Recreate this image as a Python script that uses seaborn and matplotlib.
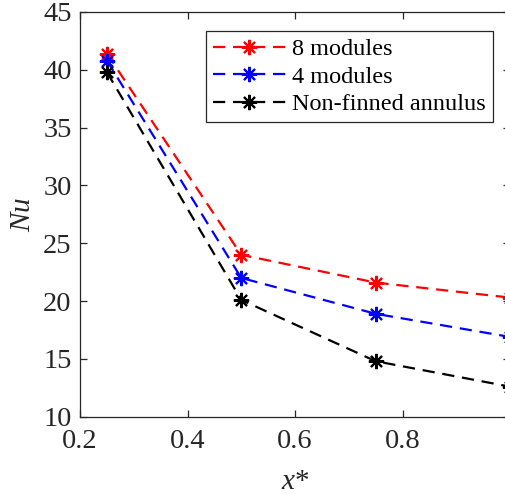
import matplotlib
matplotlib.use("Agg")
import matplotlib.pyplot as plt
import seaborn as sns
import pandas as pd

# Nusselt number along the dimensionless axial position
x_star = [0.25, 0.50, 0.75, 1.00]
nu_8_modules = [41.4, 24.0, 21.6, 20.3]
nu_4_modules = [40.8, 22.0, 18.9, 16.9]
nu_non_finned = [39.8, 20.1, 14.8, 12.6]

series_names = ["8 modules", "4 modules", "Non-finned annulus"]
series_colors = ["#ff0000", "#0000ff", "#000000"]

x_ticks = [0.2, 0.4, 0.6, 0.8, 1.0]
x_tick_labels = ["0.2", "0.4", "0.6", "0.8", ""]
y_ticks = [10, 15, 20, 25, 30, 35, 40, 45]

sns.set_theme(style="white")
plt.rcParams["font.family"] = ["Liberation Serif", "DejaVu Serif"]
plt.rcParams["mathtext.fontset"] = "custom"
plt.rcParams["mathtext.it"] = "Liberation Serif:italic"
plt.rcParams["mathtext.rm"] = "Liberation Serif"

W, H = 505, 494
fig = plt.figure(figsize=(W / 100, H / 100), dpi=100)
left, right, top, bottom = 80, 510, 12, 416.7
ax = fig.add_axes([left / W, 1 - bottom / H, (right - left) / W, (bottom - top) / H])

frame = pd.DataFrame({
    "x": x_star * 3,
    "Nu": nu_8_modules + nu_4_modules + nu_non_finned,
    "series": [n for n in series_names for _ in x_star],
})

for name, color in zip(series_names, series_colors):
    sub = frame[frame["series"] == name]
    sns.lineplot(
        data=sub, x="x", y="Nu", ax=ax, color=color, label=name,
        linestyle=(0, (5.5, 3.5)), linewidth=1.6,
        marker=(8, 2, 0), markersize=11, mec=color, mew=1.5,
        clip_on=False, zorder=3,
    )

ax.set_xlim(0.2, 1.0)
ax.set_ylim(10, 45)
ax.set_xticks(x_ticks)
ax.set_xticklabels(x_tick_labels)
ax.set_yticks(y_ticks)

for s in ax.spines.values():
    s.set_color("#262626")
    s.set_linewidth(0.9)
    s.set_visible(True)

ax.tick_params(axis="both", which="both", direction="in", length=5, width=0.9,
               color="#262626", labelsize=20.5, labelcolor="#262626",
               top=True, right=True, bottom=True, left=True)
ax.tick_params(axis="x", pad=9)
ax.tick_params(axis="y", pad=6)

ax.set_xlabel(r"$x$*", fontsize=21, color="#262626", labelpad=11)
ax.set_ylabel(r"$Nu$", fontsize=21, color="#262626", labelpad=5)

leg = ax.legend(
    loc="upper right", bbox_to_anchor=(493 / W, 1 - 31 / H),
    bbox_transform=fig.transFigure, fontsize=17.5, frameon=True,
    fancybox=False, framealpha=1, edgecolor="#262626",
    handlelength=3.0, handletextpad=0.25, labelspacing=0.22,
    borderpad=0.3, borderaxespad=0, numpoints=1,
)
leg.get_frame().set_linewidth(0.9)
for t in leg.get_texts():
    t.set_color("#000000")

fig.savefig("out.png", dpi=100)
